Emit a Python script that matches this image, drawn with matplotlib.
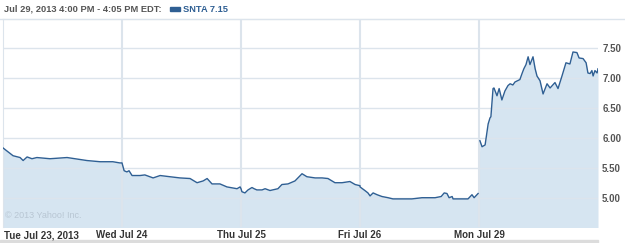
import numpy as np
import matplotlib
matplotlib.use('Agg')
import matplotlib.pyplot as plt
from matplotlib.patches import Rectangle
from matplotlib.lines import Line2D

plt.rcParams['font.family'] = ['Liberation Sans', 'DejaVu Sans']

# ── Data: minutes since open (390-min session) and price, per trading day ──
day_labels = ['Tue Jul 23, 2013', 'Wed Jul 24', 'Thu Jul 25', 'Fri Jul 26', 'Mon Jul 29']

tue_min = [0, 33, 56, 66, 79, 95, 111, 154, 210, 275, 318, 360, 383]
tue_px = [5.83, 5.70, 5.67, 5.62, 5.68, 5.65, 5.67, 5.65, 5.67, 5.62, 5.60, 5.60, 5.58]

wed_min = [0, 7, 16, 23, 33, 59, 75, 102, 125, 157, 190, 223, 246, 266, 279, 295,
           321, 344, 377, 387]
wed_px = [5.58, 5.45, 5.43, 5.45, 5.37, 5.37, 5.38, 5.33, 5.37, 5.35, 5.33, 5.32,
          5.25, 5.28, 5.32, 5.23, 5.23, 5.18, 5.15, 5.18]

thu_min = [0, 3, 13, 23, 36, 43, 52, 69, 79, 95, 121, 134, 154, 177, 200, 216,
           243, 266, 285, 308, 331, 357, 374, 390]
thu_px = [5.15, 5.10, 5.08, 5.13, 5.17, 5.15, 5.13, 5.13, 5.15, 5.12, 5.15, 5.22,
          5.23, 5.28, 5.40, 5.35, 5.33, 5.33, 5.32, 5.25, 5.25, 5.27, 5.22, 5.20]

fri_min = [0, 16, 26, 33, 43, 56, 72, 92, 108, 121, 138, 170, 203, 246, 266, 276,
           285, 292, 302, 305, 354, 367, 374, 387]
fri_px = [5.18, 5.12, 5.08, 5.03, 5.08, 5.05, 5.02, 5.00, 4.98, 4.98, 4.98, 4.98,
          5.00, 5.00, 5.02, 5.08, 5.07, 5.00, 5.02, 4.98, 4.98, 5.05, 5.00, 5.07]

mon_min = [3, 10, 20, 30, 36, 39, 46, 49, 59, 66, 75, 85, 95, 102, 111, 118, 134,
           141, 147, 154, 161, 167, 177, 184, 190, 200, 210, 223, 233, 249, 259,
           272, 285, 298, 308, 321, 328, 341, 351, 357, 364, 370, 374, 380, 387, 390]
mon_px = [5.95, 5.85, 5.88, 6.23, 6.33, 6.35, 6.82, 6.83, 6.70, 6.82, 6.63, 6.78,
          6.87, 6.90, 6.88, 6.93, 6.97, 7.07, 7.15, 7.22, 7.35, 7.22, 7.35, 7.15,
          7.03, 6.95, 6.73, 6.90, 6.83, 6.92, 6.82, 7.03, 7.25, 7.23, 7.43, 7.42,
          7.33, 7.32, 7.25, 7.08, 7.07, 7.12, 7.03, 7.12, 7.08, 7.15]

y_ticks = [5.00, 5.50, 6.00, 6.50, 7.00, 7.50]
header = 'Jul 29, 2013 4:00 PM - 4:05 PM EDT:'
symbol = 'SNTA 7.15'

LINE = '#2f5f93'
FILL = '#d6e5f1'
GRID = '#dce4ec'
TXT = '#333333'

days = [(tue_min, tue_px), (wed_min, wed_px), (thu_min, thu_px),
        (fri_min, fri_px), (mon_min, mon_px)]

fig = plt.figure(figsize=(6.25, 2.43), dpi=100)
W, H = 625, 243
ax = fig.add_axes([3 / W, 1 - 226.5 / H, 595 / W, (226.5 - 19) / H])

all_x, all_y = [], []
for i, (m, p) in enumerate(days):
    all_x.append(i + np.array(m) / 390.0)
    all_y.append(np.array(p))
all_x = np.concatenate(all_x)
all_y = np.concatenate(all_y)

ax.set_xlim(0, 5)
ax.set_ylim(4.52, 7.98)
ax.fill_between(all_x, all_y, 4.0, color=FILL, lw=0, zorder=1)
# Fri -> Mon gap is not joined by the line
split = sum(len(d[0]) for d in days[:4])
ax.plot(all_x[:split], all_y[:split], color=LINE, lw=1.0, zorder=3)
ax.plot(all_x[split:], all_y[split:], color=LINE, lw=1.0, zorder=3)

for v in y_ticks:
    ax.axhline(v, color=GRID, lw=1.0, zorder=2)
for d in range(1, 5):
    ax.axvline(d, color=GRID, lw=1.5, zorder=2)

for s in ['right', 'bottom']:
    ax.spines[s].set_visible(False)
ax.spines['left'].set_color(GRID)
ax.spines['top'].set_color(GRID)

ax.yaxis.tick_right()
ax.set_yticks(y_ticks)
ax.set_yticklabels(['%.2f' % v for v in y_ticks], fontsize=7, fontweight='bold', color='#555555')
ax.tick_params(axis='y', length=0, pad=3)
ax.set_xticks([])

# day labels, just under the plot area
ylab = 1 - 235 / H
x0, x1 = 3 / W, 598 / W
for i, lab in enumerate(day_labels):
    xf = x0 + (x1 - x0) * i / 5
    if i == 0:
        fig.text(xf + 1 / W, ylab, lab, ha='left', va='center',
                 fontsize=7, fontweight='bold', color=TXT)
    else:
        fig.text(xf, ylab, lab, ha='center', va='center',
                 fontsize=7, fontweight='bold', color=TXT)

ax.text(0.004, 0.03, '© 2013 Yahoo! Inc.', transform=ax.transAxes, fontsize=6.5,
        color='#b8c6d3', ha='left', va='bottom')

# header
fig.text(4 / W, 1 - 9 / H, header, fontsize=6.7, fontweight='bold', color='#555555',
         ha='left', va='center')
fig.patches.append(Rectangle((170 / W, 1 - 11 / H), 10 / W, 4 / H, transform=fig.transFigure,
                             color=LINE))
fig.text(183 / W, 1 - 9 / H, symbol, fontsize=6.7, fontweight='bold', color=LINE,
         ha='left', va='center')
fig.lines.append(Line2D([0, 1], [1 - 19 / H, 1 - 19 / H], transform=fig.transFigure,
                        color=GRID, lw=1.0))
# bottom bar
fig.patches.append(Rectangle((0, 0), 598 / W, 3 / H, transform=fig.transFigure,
                             color='#dcdcdc'))

fig.savefig('out.png', dpi=100, facecolor='white')
